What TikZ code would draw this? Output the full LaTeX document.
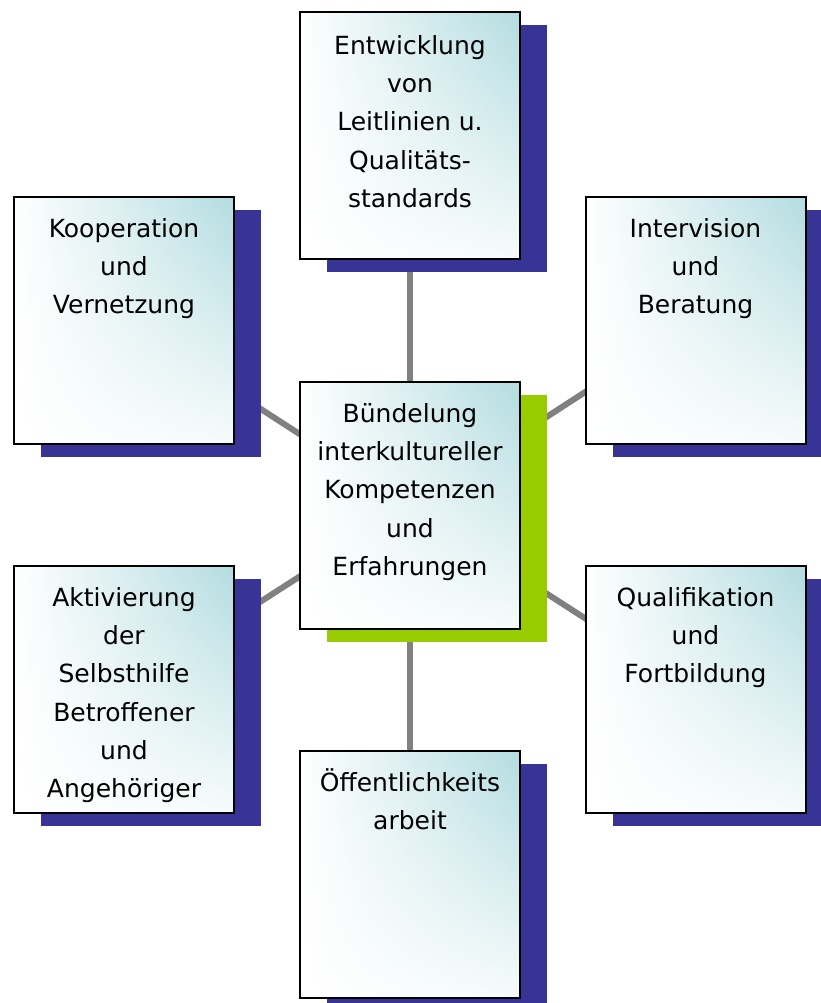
\documentclass[tikz,border=0pt]{standalone}
\usepackage{fontspec}
\setmainfont{DejaVu Sans}
\usetikzlibrary{shadows,backgrounds,shadings}
\definecolor{boxnavy}{HTML}{373496}
\definecolor{shgreen}{HTML}{99CC00}
\definecolor{tealc}{HTML}{B3DCE0}
\definecolor{lrc}{HTML}{F6FBFB}
\definecolor{conngray}{HTML}{808080}
\begin{document}
\begin{tikzpicture}[x=1pt,y=-1pt,
  box/.style={rectangle, draw=black, line width=2pt, minimum width=220pt, minimum height=247pt, inner sep=0pt,
     upper left=white, upper right=tealc, lower left=white, lower right=lrc,
     drop shadow={shadow xshift=27pt, shadow yshift=-13pt, fill=boxnavy, opacity=1, draw=none}},
  centerbox/.style={box, drop shadow={shadow xshift=27pt, shadow yshift=-13pt, fill=shgreen, opacity=1, draw=none}},
  lbl/.style={anchor=north, inner sep=0pt, align=center, font=\fontsize{25}{38.3}\selectfont},
  conn/.style={draw=conngray, line width=6pt}]
\path[use as bounding box] (0,0) rectangle (821,1003);
\clip (0,0) rectangle (821,1003);

\node[box] (T)  at (410,135.5) {};
\node[centerbox] (C) at (410,505.5) {};
\node[box] (KO) at (124,320.5) {};
\node[box] (IN) at (695.5,320.5) {};
\node[box] (AK) at (124,689.5) {};
\node[box] (QU) at (695.5,689.5) {};
\node[box] (OE) at (410,874.5) {};

\node[lbl] (tT)  at ([yshift=-13pt]T.north)  {\rule{0pt}{30pt}Entwicklung\\von\\Leitlinien u.\\Qualitäts-\\standards};
\node[lbl] (tC)  at ([yshift=-11pt]C.north)  {\rule{0pt}{30pt}Bündelung\\interkultureller\\Kompetenzen\\und\\Erfahrungen};
\node[lbl] (tKO) at ([yshift=-11pt]KO.north) {\rule{0pt}{30pt}Kooperation\\und\\Vernetzung};
\node[lbl] (tIN) at ([yshift=-11pt]IN.north) {\rule{0pt}{30pt}Intervision\\und\\Beratung};
\node[lbl] (tAK) at ([yshift=-11pt]AK.north) {\rule{0pt}{30pt}Aktivierung\\der\\Selbsthilfe\\Betroffener\\und\\Angehöriger};
\node[lbl] (tQU) at ([yshift=-11pt]QU.north) {\rule{0pt}{30pt}Qualifikation\\und\\Fortbildung};
\node[lbl] (tOE) at ([yshift=-11pt]OE.north) {\rule{0pt}{30pt}Öffentlichkeits\\arbeit};

\begin{scope}[on background layer]
\fill[white] (0,0) rectangle (821,1003);
\draw[conn] (C.center) -- (T.center);
\draw[conn] (C.center) -- (KO.center);
\draw[conn] (C.center) -- (IN.center);
\draw[conn] (C.center) -- (AK.center);
\draw[conn] (C.center) -- (QU.center);
\draw[conn] (C.center) -- (OE.center);
\end{scope}
\end{tikzpicture}
\end{document}
